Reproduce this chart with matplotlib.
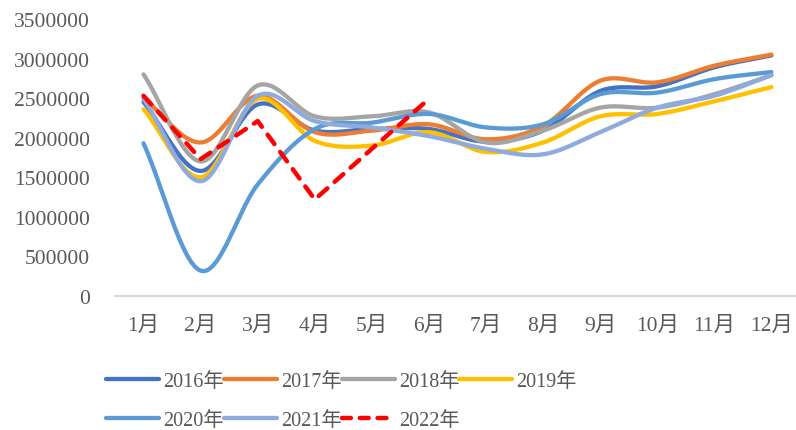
import numpy as np
import matplotlib
matplotlib.use("Agg")
import matplotlib.pyplot as plt
from matplotlib.lines import Line2D

plt.rcParams['font.family'] = ['Liberation Serif', 'Noto Sans CJK SC']

months = ['1月', '2月', '3月', '4月', '5月', '6月', '7月', '8月', '9月', '10月', '11月', '12月']

# 各年度月度数据
y2016 = [2450000, 1580000, 2420000, 2090000, 2110000, 2110000, 1950000, 2090000, 2590000, 2650000, 2890000, 3040000]
y2017 = [2500000, 1940000, 2530000, 2070000, 2090000, 2170000, 1980000, 2150000, 2720000, 2700000, 2910000, 3050000]
y2018 = [2800000, 1700000, 2660000, 2270000, 2270000, 2320000, 1940000, 2090000, 2380000, 2380000, 2550000, 2790000]
y2019 = [2360000, 1500000, 2490000, 1960000, 1900000, 2070000, 1820000, 1940000, 2270000, 2300000, 2460000, 2640000]
y2020 = [1930000, 320000, 1410000, 2110000, 2190000, 2300000, 2130000, 2170000, 2550000, 2570000, 2740000, 2830000]
y2021 = [2490000, 1450000, 2530000, 2210000, 2130000, 2020000, 1860000, 1790000, 2070000, 2380000, 2530000, 2790000]
y2022 = [2530000, 1730000, 2210000, 1220000, 1860000, 2490000]

series = [
    ('2016年', y2016, '#4472C4'),
    ('2017年', y2017, '#ED7D31'),
    ('2018年', y2018, '#A5A5A5'),
    ('2019年', y2019, '#FFC000'),
    ('2020年', y2020, '#5B9BD5'),
    ('2021年', y2021, '#8FAADC'),
]


def smooth(x, y, n=30):
    # Catmull-Rom curve through the points (like Excel's smoothed line)
    x = np.asarray(x, float)
    y = np.asarray(y, float)
    px = np.concatenate([[2 * x[0] - x[1]], x, [2 * x[-1] - x[-2]]])
    py = np.concatenate([[2 * y[0] - y[1]], y, [2 * y[-1] - y[-2]]])
    xs, ys = [], []
    t = np.linspace(0, 1, n)
    for i in range(1, len(px) - 2):
        for p, out in ((px, xs), (py, ys)):
            p0, p1, p2, p3 = p[i - 1], p[i], p[i + 1], p[i + 2]
            out.append(0.5 * (2 * p1 + (-p0 + p2) * t
                              + (2 * p0 - 5 * p1 + 4 * p2 - p3) * t ** 2
                              + (-p0 + 3 * p1 - 3 * p2 + p3) * t ** 3))
    return np.concatenate(xs), np.concatenate(ys)


fig = plt.figure(figsize=(7.96, 4.31), dpi=100)
ax = fig.add_axes([115 / 796, 1 - 297 / 431, 685 / 796, 277 / 431])

x = np.arange(len(months))
handles = []
for name, vals, color in series:
    sx, sy = smooth(x, vals)
    ax.plot(sx, sy, color=color, lw=3.1, solid_capstyle='round')
    handles.append(Line2D([], [], color=color, lw=3.1, solid_capstyle='round', label=name))

x22 = np.arange(len(y2022))
ax.plot(x22, y2022, color='#FF0000', lw=3.2, ls=(0, (2.6, 2.2)), dash_capstyle='round')
handles.append(Line2D([], [], color='#FF0000', lw=3.2, ls=(0, (2.0, 2.0)),
                      dash_capstyle='round', label='2022年'))

ax.set_xlim(-0.5, 11.5)
ax.set_ylim(0, 3500000)
ax.set_yticks(np.arange(0, 3500001, 500000))
ax.set_yticklabels([str(v) for v in range(0, 3500001, 500000)])
ax.set_xticks(x)
ax.set_xticklabels(months)

for s in ['top', 'right', 'left']:
    ax.spines[s].set_visible(False)
ax.spines['bottom'].set_color('#D9D9D9')
ax.spines['bottom'].set_linewidth(1.5)
ax.tick_params(axis='both', length=0, labelsize=15.5, colors='#595959')
ax.tick_params(axis='y', pad=18)
ax.tick_params(axis='x', pad=14)

# 图例按行排列：2016-2019 一行，2020-2022 一行
order = [0, 4, 1, 5, 2, 6, 3]
fig.legend([handles[i] for i in order], [handles[i].get_label() for i in order],
           loc='center left', bbox_to_anchor=(88 / 796, 1 - 402 / 431), ncol=4, frameon=False,
           fontsize=14.5, handlelength=2.64, handletextpad=0.2, columnspacing=0.0,
           labelspacing=1.02, labelcolor='#595959')

fig.savefig('out.png', dpi=100)
